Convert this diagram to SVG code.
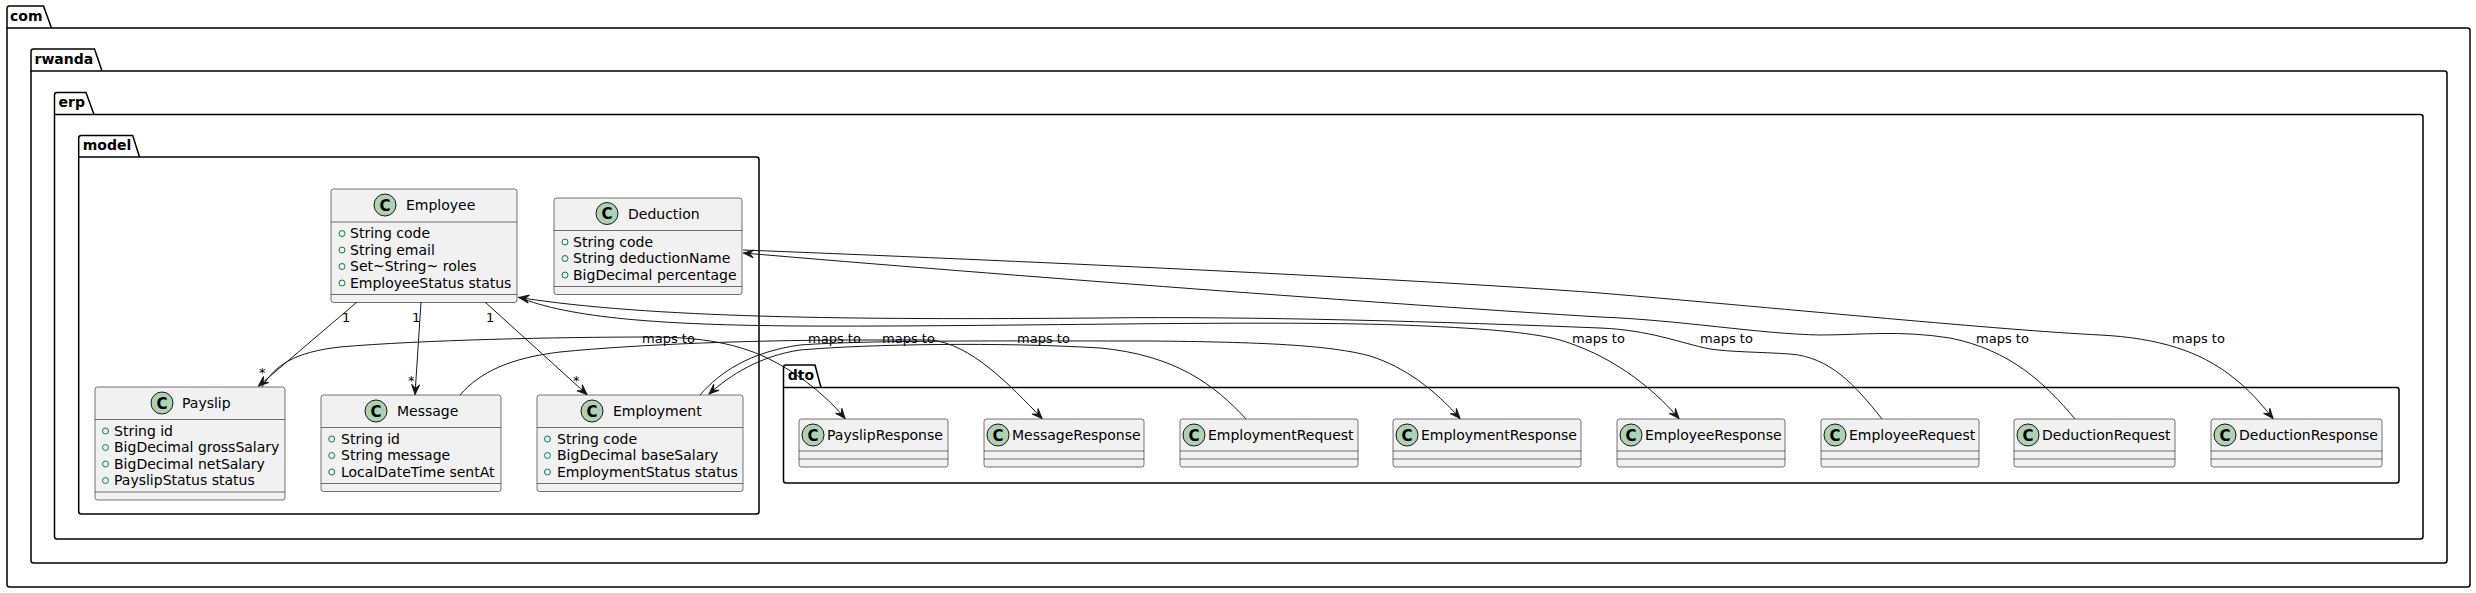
<svg xmlns="http://www.w3.org/2000/svg" width="2476" height="593" viewBox="0 0 2476 593">
<defs>
<style>
.pkg{fill:none;stroke:#000000;stroke-width:1.5}
.pkgt{font-family:"DejaVu Sans",sans-serif;font-size:14px;font-weight:bold;fill:#000000}
.box{fill:#F1F1F1;stroke:#181818;stroke-width:0.6}
.sep{stroke:#181818;stroke-width:0.6}
.cc{fill:#ADD1B2;stroke:#181818;stroke-width:1}
.ct{font-family:"DejaVu Sans",sans-serif;font-size:15px;font-weight:bold;fill:#000000;text-anchor:middle}
.name{font-family:"DejaVu Sans",sans-serif;font-size:14px;fill:#000000}
.attr{font-family:"DejaVu Sans",sans-serif;font-size:14px;fill:#000000}
.vis{fill:none;stroke:#038048;stroke-width:1}
.edge{fill:none;stroke:#181818;stroke-width:1}
.lbl{font-family:"DejaVu Sans",sans-serif;font-size:13px;fill:#000000}
</style>
<marker id="arr" markerUnits="userSpaceOnUse" markerWidth="12" markerHeight="10" viewBox="-11 -5 12 10" refX="0" refY="0" orient="auto">
<path d="M0,0 L-10,-4 L-6,0 L-10,4 Z" fill="#181818" stroke="#181818" stroke-width="1"/>
</marker>
</defs>
<rect width="2476" height="593" fill="#FFFFFF"/>

<!-- packages -->
<g id="pkg-com">
<path class="pkg" d="M7,28 V8.5 Q7,6 9.5,6 H43.5 L51.5,28"/>
<path class="pkg" d="M7,28 H2467.5 Q2470,28 2470,30.5 V584.5 Q2470,587 2467.5,587 H9.5 Q7,587 7,584.5 Z"/>
<text class="pkgt" x="10" y="20.5">com</text>
</g>
<g id="pkg-rwanda">
<path class="pkg" d="M31,71 V51.5 Q31,49 33.5,49 H94.5 L102,71"/>
<path class="pkg" d="M31,71 H2444.5 Q2447,71 2447,73.5 V560.5 Q2447,563 2444.5,563 H33.5 Q31,563 31,560.5 Z"/>
<text class="pkgt" x="34.5" y="63.5">rwanda</text>
</g>
<g id="pkg-erp">
<path class="pkg" d="M54.5,114.5 V95 Q54.5,92.5 57,92.5 H86 L94,114.5"/>
<path class="pkg" d="M54.5,114.5 H2420.5 Q2423,114.5 2423,117 V536.5 Q2423,539 2420.5,539 H57 Q54.5,539 54.5,536.5 Z"/>
<text class="pkgt" x="58.5" y="106.5">erp</text>
</g>
<g id="pkg-model">
<path class="pkg" d="M78.7,157 V138 Q78.7,135.5 81.2,135.5 H132.7 L139.5,157"/>
<path class="pkg" d="M78.7,157 H756.5 Q759,157 759,159.5 V511.5 Q759,514 756.5,514 H81.2 Q78.7,514 78.7,511.5 Z"/>
<text class="pkgt" x="82.7" y="149.5">model</text>
</g>
<g id="pkg-dto">
<path class="pkg" d="M783.5,387.5 V367.5 Q783.5,365 786,365 H815 L821,387.5"/>
<path class="pkg" d="M783.5,387.5 H2396.5 Q2399,387.5 2399,390 V480.5 Q2399,483 2396.5,483 H786 Q783.5,483 783.5,480.5 Z"/>
<text class="pkgt" x="787.7" y="380">dto</text>
</g>

<!-- model classes -->
<g id="Employee">
<rect class="box" x="331" y="189" width="186" height="113.5" rx="2.5"/>
<circle class="cc" cx="385" cy="205" r="11"/>
<text class="ct" x="385" y="210.5">C</text>
<text class="name" x="406" y="210">Employee</text>
<line class="sep" x1="331" y1="222" x2="517" y2="222"/>
<circle class="vis" cx="342" cy="233.5" r="3"/><text class="attr" x="350" y="238.2">String code</text>
<circle class="vis" cx="342" cy="250" r="3"/><text class="attr" x="350" y="254.7">String email</text>
<circle class="vis" cx="342" cy="266.5" r="3"/><text class="attr" x="350" y="271.2">Set~String~ roles</text>
<circle class="vis" cx="342" cy="283" r="3"/><text class="attr" x="350" y="287.7">EmployeeStatus status</text>
<line class="sep" x1="331" y1="294.5" x2="517" y2="294.5"/>
</g>
<g id="Deduction">
<rect class="box" x="554" y="198" width="188" height="96.5" rx="2.5"/>
<circle class="cc" cx="607" cy="213.5" r="11"/>
<text class="ct" x="607" y="219">C</text>
<text class="name" x="628" y="218.5">Deduction</text>
<line class="sep" x1="554" y1="230.5" x2="742" y2="230.5"/>
<circle class="vis" cx="565" cy="242" r="3"/><text class="attr" x="573" y="246.5">String code</text>
<circle class="vis" cx="565" cy="258.5" r="3"/><text class="attr" x="573" y="263">String deductionName</text>
<circle class="vis" cx="565" cy="275" r="3"/><text class="attr" x="573" y="279.5">BigDecimal percentage</text>
<line class="sep" x1="554" y1="286.5" x2="742" y2="286.5"/>
</g>
<g id="Payslip">
<rect class="box" x="95" y="387" width="190" height="113" rx="2.5"/>
<circle class="cc" cx="162" cy="403" r="11"/>
<text class="ct" x="162" y="408.5">C</text>
<text class="name" x="182" y="408">Payslip</text>
<line class="sep" x1="95" y1="419.5" x2="285" y2="419.5"/>
<circle class="vis" cx="105.5" cy="431" r="3"/><text class="attr" x="114" y="435.5">String id</text>
<circle class="vis" cx="105.5" cy="447.5" r="3"/><text class="attr" x="114" y="452">BigDecimal grossSalary</text>
<circle class="vis" cx="105.5" cy="464" r="3"/><text class="attr" x="114" y="468.5">BigDecimal netSalary</text>
<circle class="vis" cx="105.5" cy="480.5" r="3"/><text class="attr" x="114" y="485">PayslipStatus status</text>
<line class="sep" x1="95" y1="492" x2="285" y2="492"/>
</g>
<g id="Message">
<rect class="box" x="321" y="395" width="180" height="96.5" rx="2.5"/>
<circle class="cc" cx="376" cy="411" r="11"/>
<text class="ct" x="376" y="416.5">C</text>
<text class="name" x="397" y="416">Message</text>
<line class="sep" x1="321" y1="427.5" x2="501" y2="427.5"/>
<circle class="vis" cx="331.7" cy="439" r="3"/><text class="attr" x="341" y="443.5">String id</text>
<circle class="vis" cx="331.7" cy="455.5" r="3"/><text class="attr" x="341" y="460">String message</text>
<circle class="vis" cx="331.7" cy="472" r="3"/><text class="attr" x="341" y="476.5">LocalDateTime sentAt</text>
<line class="sep" x1="321" y1="483.5" x2="501" y2="483.5"/>
</g>
<g id="Employment">
<rect class="box" x="537" y="395" width="206" height="96.5" rx="2.5"/>
<circle class="cc" cx="592" cy="411" r="11"/>
<text class="ct" x="592" y="416.5">C</text>
<text class="name" x="613" y="416">Employment</text>
<line class="sep" x1="537" y1="427.5" x2="743" y2="427.5"/>
<circle class="vis" cx="547.5" cy="439" r="3"/><text class="attr" x="557" y="443.5">String code</text>
<circle class="vis" cx="547.5" cy="455.5" r="3"/><text class="attr" x="557" y="460">BigDecimal baseSalary</text>
<circle class="vis" cx="547.5" cy="472" r="3"/><text class="attr" x="557" y="476.5">EmploymentStatus status</text>
<line class="sep" x1="537" y1="483.5" x2="743" y2="483.5"/>
</g>

<!-- dto classes -->
<g id="PayslipResponse">
<rect class="box" x="799" y="419" width="149" height="48" rx="2.5"/>
<circle class="cc" cx="813" cy="435" r="11"/><text class="ct" x="813" y="440.5">C</text>
<text class="name" x="827" y="440">PayslipResponse</text>
<line class="sep" x1="799" y1="451" x2="948" y2="451"/><line class="sep" x1="799" y1="459" x2="948" y2="459"/>
</g>
<g id="MessageResponse">
<rect class="box" x="984" y="419" width="160" height="48" rx="2.5"/>
<circle class="cc" cx="998" cy="435" r="11"/><text class="ct" x="998" y="440.5">C</text>
<text class="name" x="1012" y="440">MessageResponse</text>
<line class="sep" x1="984" y1="451" x2="1144" y2="451"/><line class="sep" x1="984" y1="459" x2="1144" y2="459"/>
</g>
<g id="EmploymentRequest">
<rect class="box" x="1180" y="419" width="178" height="48" rx="2.5"/>
<circle class="cc" cx="1194" cy="435" r="11"/><text class="ct" x="1194" y="440.5">C</text>
<text class="name" x="1208" y="440">EmploymentRequest</text>
<line class="sep" x1="1180" y1="451" x2="1358" y2="451"/><line class="sep" x1="1180" y1="459" x2="1358" y2="459"/>
</g>
<g id="EmploymentResponse">
<rect class="box" x="1393" y="419" width="188" height="48" rx="2.5"/>
<circle class="cc" cx="1407" cy="435" r="11"/><text class="ct" x="1407" y="440.5">C</text>
<text class="name" x="1421" y="440">EmploymentResponse</text>
<line class="sep" x1="1393" y1="451" x2="1581" y2="451"/><line class="sep" x1="1393" y1="459" x2="1581" y2="459"/>
</g>
<g id="EmployeeResponse">
<rect class="box" x="1617" y="419" width="168" height="48" rx="2.5"/>
<circle class="cc" cx="1631" cy="435" r="11"/><text class="ct" x="1631" y="440.5">C</text>
<text class="name" x="1645" y="440">EmployeeResponse</text>
<line class="sep" x1="1617" y1="451" x2="1785" y2="451"/><line class="sep" x1="1617" y1="459" x2="1785" y2="459"/>
</g>
<g id="EmployeeRequest">
<rect class="box" x="1821" y="419" width="158" height="48" rx="2.5"/>
<circle class="cc" cx="1835" cy="435" r="11"/><text class="ct" x="1835" y="440.5">C</text>
<text class="name" x="1849" y="440">EmployeeRequest</text>
<line class="sep" x1="1821" y1="451" x2="1979" y2="451"/><line class="sep" x1="1821" y1="459" x2="1979" y2="459"/>
</g>
<g id="DeductionRequest">
<rect class="box" x="2014" y="419" width="161" height="48" rx="2.5"/>
<circle class="cc" cx="2028" cy="435" r="11"/><text class="ct" x="2028" y="440.5">C</text>
<text class="name" x="2042" y="440">DeductionRequest</text>
<line class="sep" x1="2014" y1="451" x2="2175" y2="451"/><line class="sep" x1="2014" y1="459" x2="2175" y2="459"/>
</g>
<g id="DeductionResponse">
<rect class="box" x="2211" y="419" width="171" height="48" rx="2.5"/>
<circle class="cc" cx="2225" cy="435" r="11"/><text class="ct" x="2225" y="440.5">C</text>
<text class="name" x="2239" y="440">DeductionResponse</text>
<line class="sep" x1="2211" y1="451" x2="2382" y2="451"/><line class="sep" x1="2211" y1="459" x2="2382" y2="459"/>
</g>

<!-- connectors -->
<g id="connectors">
<path class="edge" marker-end="url(#arr)" d="M357,302 L258.5,386"/>
<path class="edge" marker-end="url(#arr)" d="M421,302 L415,394.5"/>
<path class="edge" marker-end="url(#arr)" d="M485,302 L587,394.5"/>
<text class="lbl" x="342" y="322">1</text>
<text class="lbl" x="259" y="377">*</text>
<text class="lbl" x="412" y="322">1</text>
<text class="lbl" x="408" y="385">*</text>
<text class="lbl" x="486" y="322">1</text>
<text class="lbl" x="573" y="385">*</text>

<path class="edge" marker-end="url(#arr)" d="M262,387 C275,365 295,352 340,347 C420,340 560,337 650,337 C700,337 740,343 775,362 C805,378 830,400 845,418.5"/>
<path class="edge" marker-end="url(#arr)" d="M460,395 C480,372 510,358 560,352 C640,344 760,340 860,340 L930,340 C970,343 1010,385 1042,418.5"/>
<path class="edge" marker-end="url(#arr)" d="M700,395 C720,372 750,352 800,345 C870,340 1000,341 1150,341 C1260,342 1330,345 1370,356 C1405,367 1435,390 1460,418.5"/>
<path class="edge" marker-end="url(#arr)" d="M1246,419 C1215,385 1175,355 1100,348 C1000,342 870,344 800,350 C760,356 730,375 709,394"/>
<path class="edge" marker-end="url(#arr)" d="M518,297 C570,318 660,325 800,326 C1000,327 1250,320 1400,325 C1480,328 1530,332 1560,340 C1610,355 1650,385 1679,418.5"/>
<path class="edge" marker-end="url(#arr)" d="M1882,419 C1855,385 1830,357 1790,354 C1760,352 1730,352 1710,349 C1680,343 1650,330 1600,328 C1450,322 1250,316 1100,318 C850,320 650,318 519,297.5"/>
<path class="edge" marker-end="url(#arr)" d="M2075,419 C2045,383 2010,350 1950,338 C1900,330 1860,335 1820,335 C1760,334 1680,320 1600,317 C1400,305 1000,275 743.5,253"/>
<path class="edge" marker-end="url(#arr)" d="M743,250 C1000,260 1400,278 1600,293 C1800,310 2000,330 2100,335 C2160,338 2200,352 2230,375 C2250,390 2262,405 2273,418.5"/>
<text class="lbl" x="642" y="343">maps to</text>
<text class="lbl" x="808" y="343">maps to</text>
<text class="lbl" x="882" y="343">maps to</text>
<text class="lbl" x="1017" y="343">maps to</text>
<text class="lbl" x="1572" y="343">maps to</text>
<text class="lbl" x="1700" y="343">maps to</text>
<text class="lbl" x="1976" y="343">maps to</text>
<text class="lbl" x="2172" y="343">maps to</text>
</g>
</svg>
